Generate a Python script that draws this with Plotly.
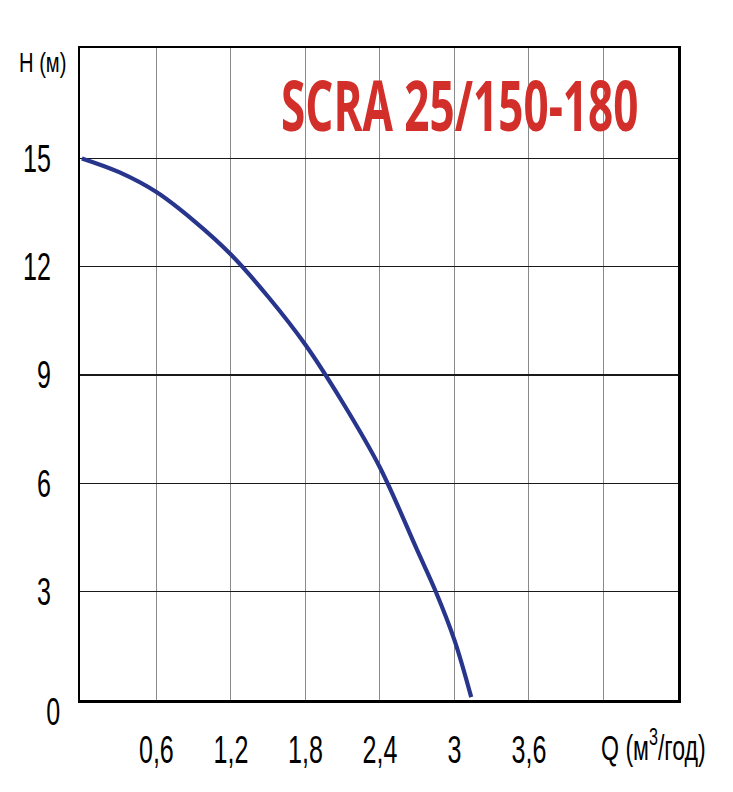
import plotly.graph_objects as go

# Data
flow_q = [0.0, 0.3, 0.6, 0.9, 1.2, 1.5, 1.8, 2.1, 2.4, 2.7, 2.85, 3.0, 3.135]
head_h = [15.0, 14.62, 14.07, 13.28, 12.34, 11.17, 9.84, 8.24, 6.44, 4.15, 3.0, 1.66, 0.08]

x_ticks = [0.6, 1.2, 1.8, 2.4, 3.0, 3.6]
x_tick_labels = ["0,6", "1,2", "1,8", "2,4", "3", "3,6"]
x_extra_grid = [4.2]
y_ticks = [3, 6, 9, 12, 15]
y_tick_labels = ["3", "6", "9", "12", "15"]

title_text = "SCRA 25/150-180"
x_title = "Q (м<sup>3</sup>/год)"
y_title = "H (м)"
y_zero_label = "0"

NUM_FONT = "Liberation Sans, Arial, sans-serif"
TITLE_FONT = "Open Sans, Noto Sans, sans-serif"

# plot area in page pixels
L, T, W, H = 80, 48, 598, 652
FIG_W, FIG_H = 733, 792

fig = go.Figure()
fig.add_trace(go.Scatter(
    x=flow_q, y=head_h, mode="lines",
    line=dict(color="#28358C", width=4.2, shape="spline", smoothing=1.0),
    hoverinfo="skip", showlegend=False,
))

fig.update_layout(
    width=FIG_W, height=FIG_H,
    margin=dict(l=L, r=FIG_W - L - W, t=T, b=FIG_H - T - H, pad=0, autoexpand=False),
    paper_bgcolor="white", plot_bgcolor="white",
    font=dict(family=NUM_FONT, color="black"),
    showlegend=False,
    xaxis=dict(
        range=[-0.015, 4.8], tickmode="array", tickvals=x_ticks, ticktext=x_tick_labels,
        showgrid=True, gridcolor="#8a8a8a", gridwidth=1,
        minor=dict(tickmode="array", tickvals=x_extra_grid, showgrid=True,
                   gridcolor="#8a8a8a", gridwidth=1, ticks=""),
        showline=True, linecolor="black", linewidth=2.5, mirror=True,
        zeroline=False, ticks="", ticklabelstandoff=15, automargin=False,
        tickfont=dict(size=38, family=NUM_FONT, color="black"),
    ),
    yaxis=dict(
        range=[0, 18.06], tickmode="array", tickvals=y_ticks, ticktext=y_tick_labels,
        showgrid=True, gridcolor="#1a1a1a", gridwidth=1.2,
        showline=True, linecolor="black", linewidth=2.5, mirror=True,
        zeroline=False, ticks="", ticklabelstandoff=19, automargin=False,
        tickfont=dict(size=38, family=NUM_FONT, color="black"),
    ),
    annotations=[
        dict(text="<b>" + title_text + "</b>", x=(460 - L) / W, y=(T + H - 104) / H,
             xref="x domain", yref="y domain", showarrow=False,
             font=dict(size=70, color="#D22F2A", family=TITLE_FONT),
             xanchor="center", yanchor="middle"),
        dict(text=y_title, x=(17 - L) / W, y=(T + H - 63) / H,
             xref="x domain", yref="y domain", showarrow=False,
             font=dict(size=28, family=NUM_FONT, color="black"),
             xanchor="left", yanchor="middle"),
        dict(text=x_title, x=4.165, y=-(745 - 700) / H,
             xref="x", yref="y domain", showarrow=False,
             font=dict(size=35, family=NUM_FONT, color="black"),
             xanchor="left", yanchor="middle"),
        dict(text=y_zero_label, x=-(80 - 62) / W, y=-(712 - 700) / H,
             xref="x domain", yref="y domain", showarrow=False,
             font=dict(size=38, family=NUM_FONT, color="black"),
             xanchor="right", yanchor="middle"),
    ],
)

# Horizontally condense the text (the reference uses condensed typefaces).
post = """
document.body.style.margin = '0';
document.body.style.overflow = 'hidden';
var gd = document.getElementById('{plot_id}');
function squeeze(el, sx, where){
  var cur = el.getAttribute('transform') || '';
  if (el.getAttribute('data-sq') === cur && cur !== '') return;
  var b = el.getBBox();
  var cx = where === 'left' ? b.x : (where === 'right' ? b.x + b.width : b.x + b.width / 2);
  var nt = cur + ' translate(' + cx + ',0) scale(' + sx + ',1) translate(' + (-cx) + ',0)';
  el.setAttribute('transform', nt);
  el.setAttribute('data-sq', nt);
}
function run(){
  gd.querySelectorAll('.xtick text').forEach(function(t){ squeeze(t, 0.66, 'center'); });
  gd.querySelectorAll('.ytick text').forEach(function(t){ squeeze(t, 0.66, 'right'); });
  var ann = gd.querySelectorAll('.annotation-text');
  var modes = [[0.63, 'center'], [0.72, 'left'], [0.66, 'left'], [0.66, 'right']];
  ann.forEach(function(t, i){ var m = modes[i] || [1, 'center']; squeeze(t, m[0], m[1]); });
}
run();
if (gd.on) { gd.on('plotly_afterplot', run); }
setTimeout(run, 50);
setTimeout(run, 300);
"""

fig.write_html("out.html", post_script=post, config={"displayModeBar": False, "staticPlot": True})
